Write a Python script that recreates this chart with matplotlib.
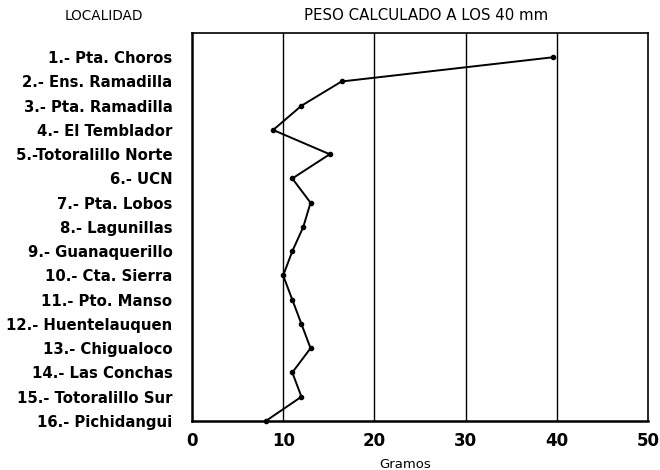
import matplotlib.pyplot as plt

localidades = ['1.- Pta. Choros', '2.- Ens. Ramadilla', '3.- Pta. Ramadilla',
               '4.- El Temblador', '5.-Totoralillo Norte', '6.- UCN',
               '7.- Pta. Lobos', '8.- Lagunillas', '9.- Guanaquerillo',
               '10.- Cta. Sierra', '11.- Pto. Manso', '12.- Huentelauquen',
               '13.- Chigualoco', '14.- Las Conchas', '15.- Totoralillo Sur',
               '16.- Pichidangui']
peso = [39.6, 16.4, 12.0, 8.9, 15.1, 11.0, 13.0, 12.2, 11.0, 10.0,
        11.0, 12.0, 13.0, 11.0, 12.0, 8.1]
xticks = [0, 10, 20, 30, 40, 50]

plt.rcParams['font.family'] = ['DejaVu Sans']

fig = plt.figure(figsize=(6.6, 4.7), dpi=100)
ax = fig.add_axes([0.2909, 0.1043, 0.6909, 0.8255])

pos = list(range(1, len(peso) + 1))
ax.plot(peso, pos, color='black', lw=1.4, marker='o', markersize=3, clip_on=False, zorder=3)

# lineas verticales de referencia
for x in xticks[1:-1]:
    ax.axvline(x, color='black', lw=1.0, zorder=1)

ax.set_xlim(0, 50)
ax.set_ylim(16, 0)
ax.set_xticks(xticks)
ax.set_xticklabels([str(v) for v in xticks], fontweight='bold', fontsize=12)
ax.set_yticks(pos)
ax.set_yticklabels(localidades, fontweight='bold', fontsize=10.7)
ax.tick_params(axis='y', length=0, pad=14)
ax.tick_params(axis='x', length=0, pad=8)
for lbl in ax.get_yticklabels():
    lbl.set_verticalalignment('center_baseline')

ax.spines['left'].set_linewidth(1.8)
ax.spines['bottom'].set_linewidth(1.8)
ax.spines['top'].set_linewidth(1.2)
ax.spines['right'].set_linewidth(1.2)

fig.text(405 / 660, 1 - 464 / 470, 'Gramos', ha='center', va='center', fontsize=9.5)
fig.text(104 / 660, 1 - 16 / 470, 'LOCALIDAD', ha='center', va='center', fontsize=9.8)
fig.text(426 / 660, 1 - 16 / 470, 'PESO CALCULADO A LOS 40 mm', ha='center', va='center', fontsize=10.8)

fig.savefig('out.png', dpi=100)
